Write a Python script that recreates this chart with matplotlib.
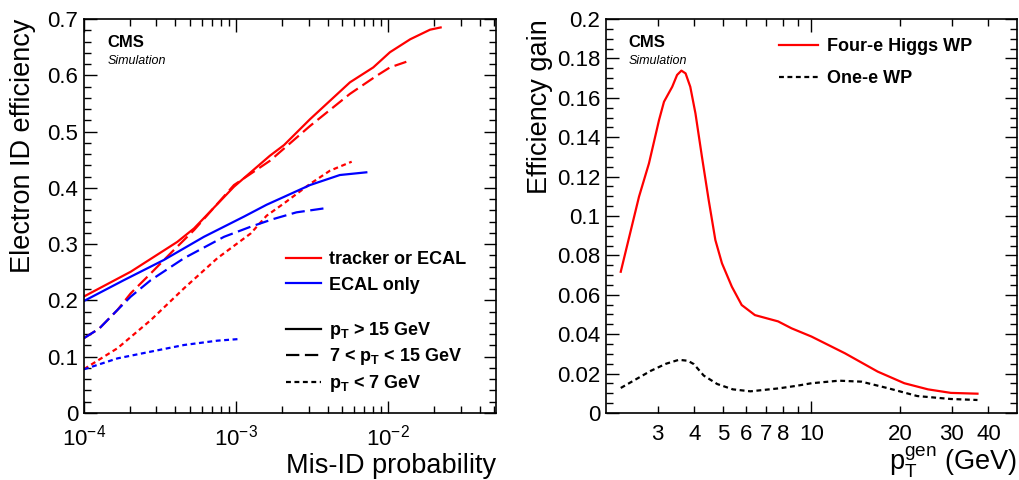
import matplotlib
matplotlib.use("Agg")
import matplotlib.pyplot as plt
from matplotlib.lines import Line2D
from matplotlib.ticker import FixedLocator, FuncFormatter, LogLocator, MultipleLocator, NullFormatter
import numpy as np

plt.rcParams['font.family'] = ['Liberation Sans', 'DejaVu Sans']
plt.rcParams['mathtext.fontset'] = 'custom'
plt.rcParams['mathtext.rm'] = 'Liberation Sans'
plt.rcParams['mathtext.it'] = 'Liberation Sans:italic'
plt.rcParams['mathtext.bf'] = 'Liberation Sans:bold'

# left panel: efficiency vs mis-ID probability
trk_hi_x = [1e-4, 2.03e-4, 4.11e-4, 5.3e-4, 9.7e-4, 1.67e-3, 2.07e-3, 3.07e-3, 5.62e-3, 8.0e-3,
            1.03e-2, 1.4e-2, 1.89e-2, 2.22e-2]
trk_hi_y = [0.207, 0.251, 0.304, 0.328, 0.402, 0.457, 0.476, 0.522, 0.5875, 0.614,
            0.641, 0.664, 0.681, 0.685]
trk_mid_x = [1e-4, 1.26e-4, 1.66e-4, 2.03e-4, 2.75e-4, 3.72e-4, 5.3e-4, 9.7e-4, 1.67e-3, 3.07e-3,
             5.62e-3, 8.4e-3, 1.03e-2, 1.32e-2]
trk_mid_y = [0.133, 0.150, 0.183, 0.2126, 0.248, 0.284, 0.325, 0.405, 0.448, 0.510,
             0.567, 0.599, 0.614, 0.624]
trk_lo_x = [1e-4, 1.66e-4, 2.75e-4, 4.55e-4, 7.54e-4, 1.25e-3, 1.59e-3, 2.07e-3, 3.07e-3, 4.15e-3, 5.77e-3]
trk_lo_y = [0.078, 0.115, 0.165, 0.2215, 0.275, 0.319, 0.3505, 0.3725, 0.407, 0.4305, 0.4465]

ecal_hi_x = [1e-4, 1.83e-4, 3.36e-4, 6.15e-4, 1.13e-3, 1.59e-3, 2.07e-3, 3.07e-3, 4.82e-3, 7.2e-3]
ecal_hi_y = [0.199, 0.236, 0.272, 0.313, 0.349, 0.37, 0.384, 0.405, 0.4228, 0.4276]
ecal_mid_x = [1e-4, 1.26e-4, 1.66e-4, 2.03e-4, 2.75e-4, 4.55e-4, 8.34e-4, 1.25e-3, 1.76e-3, 2.5e-3, 3.9e-3]
ecal_mid_y = [0.133, 0.150, 0.183, 0.2067, 0.236, 0.275, 0.313, 0.331, 0.3446, 0.3565, 0.364]
ecal_lo_x = [1e-4, 1.66e-4, 2.75e-4, 4.55e-4, 7.54e-4, 1.06e-3]
ecal_lo_y = [0.0776, 0.097, 0.109, 0.1208, 0.1285, 0.1315]

# right panel: efficiency gain vs pT
gain4e_x = [2.245, 2.59, 2.80, 3.03, 3.15, 3.36, 3.49, 3.61, 3.73, 3.87, 4.03, 4.24, 4.47, 4.71,
            4.96, 5.36, 5.79, 6.42, 7.70, 8.55, 10.0, 13.0, 16.8, 20.7, 24.9, 29.8, 36.7]
gain4e_y = [0.0717, 0.1098, 0.1267, 0.1487, 0.158, 0.1656, 0.1716, 0.1738, 0.1724, 0.1656, 0.1521,
            0.1301, 0.1081, 0.0878, 0.076, 0.0641, 0.0548, 0.0497, 0.0465, 0.043, 0.0388, 0.0303,
            0.021, 0.0151, 0.012, 0.0102, 0.0098]
gain1e_x = [2.245, 2.84, 3.2, 3.54, 3.8, 3.98, 4.3, 4.78, 5.4, 6.2, 7.74, 8.9, 10.0, 12.4, 14.8,
            18.3, 22.9, 29.8, 36.7]
gain1e_y = [0.0127, 0.0214, 0.025, 0.027, 0.0265, 0.0248, 0.019, 0.0147, 0.012, 0.011, 0.0125,
            0.0138, 0.0151, 0.0164, 0.0159, 0.0125, 0.0086, 0.0071, 0.0066]

pt_ticks = [3, 4, 5, 6, 7, 8, 9, 20, 30, 40]
pt_labels = ['3', '4', '5', '6', '7', '8', '', '20', '30', '40']

RED = '#ff0000'
BLUE = '#0000ff'
LONG = (6, 2.5)
SHORT = (2.2, 1.6)
LW = 1.6

def rootStyle(ax):
    ax.tick_params(which='both', direction='in', top=True, right=True, labelsize=16, pad=8)
    ax.tick_params(axis='y', pad=4)
    ax.tick_params(which='major', length=9, width=1)
    ax.tick_params(which='minor', length=5, width=1)
    for sp in ax.spines.values():
        sp.set_linewidth(1.2)

fig = plt.figure(figsize=(10.19, 4.8), dpi=100)
ax1 = fig.add_axes([0.0824, 0.1396, 0.4043, 0.8208])
ax2 = fig.add_axes([0.5947, 0.1396, 0.4033, 0.8208])

#* left panel
kw = dict(lw=LW, solid_joinstyle='round', dash_joinstyle='round')
ax1.plot(trk_hi_x, trk_hi_y, color=RED, **kw)
ax1.plot(trk_mid_x, trk_mid_y, color=RED, dashes=LONG, **kw)
ax1.plot(trk_lo_x, trk_lo_y, color=RED, dashes=SHORT, **kw)
ax1.plot(ecal_hi_x, ecal_hi_y, color=BLUE, **kw)
ax1.plot(ecal_mid_x, ecal_mid_y, color=BLUE, dashes=LONG, **kw)
ax1.plot(ecal_lo_x, ecal_lo_y, color=BLUE, dashes=SHORT, **kw)
ax1.set_xscale('log')
ax1.set_xlim(1e-4, 0.0513)
ax1.set_ylim(0, 0.7)
ax1.xaxis.set_minor_locator(LogLocator(base=10, subs=np.arange(2, 10)))
ax1.xaxis.set_minor_formatter(NullFormatter())
ax1.yaxis.set_major_locator(MultipleLocator(0.1))
ax1.yaxis.set_minor_locator(MultipleLocator(0.02))
ax1.yaxis.set_major_formatter(FuncFormatter(lambda v, p: '%g' % round(v, 3)))
rootStyle(ax1)
ax1.set_ylabel('Electron ID efficiency', fontsize=19.5, loc='top', labelpad=8)
ax1.set_xlabel('Mis-ID probability', fontsize=19.5, loc='right', labelpad=2)
ax1.text(0.058, 0.94, 'CMS', transform=ax1.transAxes, fontsize=12, fontweight='bold', va='center')
ax1.text(0.058, 0.893, 'Simulation', transform=ax1.transAxes, fontsize=9, style='italic', va='center')

# two legend blocks: colour = algorithm, line style = pT bin
legProps = dict(loc='upper left', frameon=False, prop={'size': 13, 'weight': 'bold'},
                handlelength=1.95, handletextpad=0.45, borderpad=0, borderaxespad=0)
colHandles = [Line2D([], [], color=RED, lw=LW), Line2D([], [], color=BLUE, lw=LW)]
colLabels = ['tracker or ECAL', 'ECAL only']
leg1 = ax1.legend(colHandles, colLabels, bbox_to_anchor=(0.49, 0.41), labelspacing=0.45, **legProps)
ax1.add_artist(leg1)
styHandles = [Line2D([], [], color='black', lw=LW), Line2D([], [], color='black', lw=LW, dashes=LONG),
              Line2D([], [], color='black', lw=LW, dashes=SHORT)]
styLabels = [r'$\mathbf{p}_\mathbf{T}$ > 15 GeV', r'7 < $\mathbf{p}_\mathbf{T}$ < 15 GeV',
             r'$\mathbf{p}_\mathbf{T}$ < 7 GeV']
ax1.legend(styHandles, styLabels, bbox_to_anchor=(0.49, 0.236), labelspacing=0.3, **legProps)

#* right panel
ax2.plot(gain4e_x, gain4e_y, color=RED, label='Four-e Higgs WP', **kw)
ax2.plot(gain1e_x, gain1e_y, color='black', dashes=SHORT, label='One-e WP', **kw)
ax2.set_xscale('log')
ax2.set_xlim(2, 50)
ax2.set_ylim(0, 0.2)
ax2.xaxis.set_major_locator(FixedLocator([10]))
ax2.xaxis.set_major_formatter(FuncFormatter(lambda v, p: '10'))
ax2.xaxis.set_minor_locator(FixedLocator(pt_ticks))
ax2.xaxis.set_minor_formatter(FuncFormatter(lambda v, p: pt_labels[p] if p is not None and p < len(pt_labels) else ''))
ax2.yaxis.set_major_locator(MultipleLocator(0.02))
ax2.yaxis.set_minor_locator(MultipleLocator(0.005))
ax2.yaxis.set_major_formatter(FuncFormatter(lambda v, p: '%g' % round(v, 3)))
rootStyle(ax2)
ax2.set_ylabel('Efficiency gain', fontsize=19.5, loc='top', labelpad=3)
ax2.set_xlabel(r'$\mathregular{p_T^{gen}}$ (GeV)', fontsize=19.5, loc='right', labelpad=0)
ax2.text(0.054, 0.94, 'CMS', transform=ax2.transAxes, fontsize=12, fontweight='bold', va='center')
ax2.text(0.054, 0.893, 'Simulation', transform=ax2.transAxes, fontsize=9, style='italic', va='center')
ax2.legend(loc='upper left', bbox_to_anchor=(0.42, 0.952), frameon=False,
           prop={'size': 13, 'weight': 'bold'}, handlelength=2.2, handletextpad=0.5,
           labelspacing=0.85, borderpad=0, borderaxespad=0)

fig.savefig('out.png', dpi=100)
